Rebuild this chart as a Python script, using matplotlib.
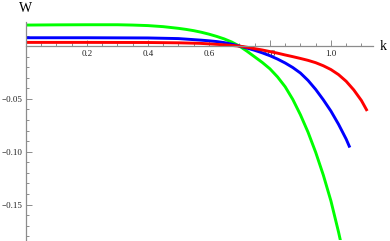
import numpy as np
import matplotlib
matplotlib.use("Agg")
import matplotlib.pyplot as plt
from matplotlib.ticker import MultipleLocator, FixedLocator

plt.rcParams['font.family'] = ['Liberation Serif', 'DejaVu Serif']

# curves (k, W)
k_green = [0.00, 0.10, 0.20, 0.30, 0.35, 0.40, 0.45, 0.50, 0.525, 0.55, 0.575,
           0.60, 0.625, 0.65, 0.675, 0.70, 0.725, 0.75, 0.775, 0.80, 0.825,
           0.85, 0.875, 0.90, 0.925, 0.95, 0.975, 1.00, 1.025, 1.045]
w_green = [0.0199, 0.0201, 0.0202, 0.0202, 0.0199, 0.0194, 0.0184, 0.0168, 0.0158,
           0.0146, 0.0131, 0.0113, 0.0092, 0.0068, 0.0038, 0.0000, -0.0049,
           -0.0102, -0.0155, -0.0215, -0.0292, -0.0385, -0.0505, -0.0650,
           -0.0815, -0.1005, -0.1220, -0.1465, -0.1760, -0.2020]

k_blue = [0.00, 0.20, 0.40, 0.50, 0.55, 0.575, 0.60, 0.625, 0.65, 0.675, 0.70,
          0.725, 0.75, 0.775, 0.80, 0.825, 0.85, 0.875, 0.90, 0.925, 0.95,
          0.975, 1.00, 1.025, 1.05, 1.062]
w_blue = [0.0079, 0.0079, 0.0077, 0.0071, 0.0061, 0.0056, 0.0050, 0.0043, 0.0033,
          0.0018, 0.0000, -0.0019, -0.0040, -0.0064, -0.0091, -0.0123, -0.0160,
          -0.0203, -0.0255, -0.0325, -0.0410, -0.0508, -0.0615, -0.0740,
          -0.0880, -0.0960]

k_red = [0.00, 0.20, 0.40, 0.50, 0.57, 0.60, 0.65, 0.70, 0.725, 0.75, 0.775,
         0.80, 0.825, 0.85, 0.875, 0.90, 0.925, 0.95, 0.975, 1.00, 1.025,
         1.05, 1.075, 1.10, 1.119]
w_red = [0.0035, 0.0035, 0.0034, 0.0031, 0.0026, 0.0021, 0.0012, 0.0000, -0.0011,
         -0.0024, -0.0037, -0.0052, -0.0067, -0.0084, -0.0100, -0.0117, -0.0135,
         -0.0157, -0.0186, -0.0222, -0.0270, -0.0333, -0.0415, -0.0515, -0.0614]

x_ticks = [0.2, 0.4, 0.6, 0.8, 1.0]
x_labels = ['0.2', '0.4', '0.6', '0.8', '1.0']
y_ticks = [-0.05, -0.10, -0.15]
y_labels = ['\u22120.05', '\u22120.10', '\u22120.15']

W, H = 390, 241
fig = plt.figure(figsize=(W / 100, H / 100), dpi=100)
ax = fig.add_axes([26 / W, 1 - 240 / H, (373 - 26) / W, (240 - 22) / H])

ax.plot(k_green, w_green, color=(0, 1, 0), lw=2.1, solid_capstyle='butt')
ax.plot(k_blue, w_blue, color=(0, 0, 1), lw=2.1, solid_capstyle='butt')
ax.plot(k_red, w_red, color=(1, 0, 0), lw=2.1, solid_capstyle='butt')

ax.set_xlim(0, 1.138)
ax.set_ylim(-0.1835, 0.0228)

gray = '#8c8c8c'
for s in ['top', 'right']:
    ax.spines[s].set_visible(False)
ax.spines['bottom'].set_position(('data', 0))
ax.spines['left'].set_position(('data', 0))
for s in ['bottom', 'left']:
    ax.spines[s].set_color(gray)
    ax.spines[s].set_linewidth(0.9)

ax.xaxis.set_major_locator(FixedLocator(x_ticks))
ax.set_xticklabels(x_labels)
ax.xaxis.set_minor_locator(MultipleLocator(0.05))
ax.yaxis.set_major_locator(FixedLocator(y_ticks))
ax.set_yticklabels(y_labels)
ax.yaxis.set_minor_locator(MultipleLocator(0.01))

ax.tick_params(which='both', direction='in', color=gray, width=0.7,
               labelsize=6.5, labelcolor='#222222')
ax.tick_params(which='major', length=4, pad=2.5)
ax.tick_params(which='minor', length=2.5)

fig.text(26 / W, 1 - 9 / H, 'W', fontsize=10, ha='center', va='center')
fig.text(383 / W, 1 - 46 / H, 'k', fontsize=10, ha='center', va='center')

fig.savefig('out.png', dpi=100)
